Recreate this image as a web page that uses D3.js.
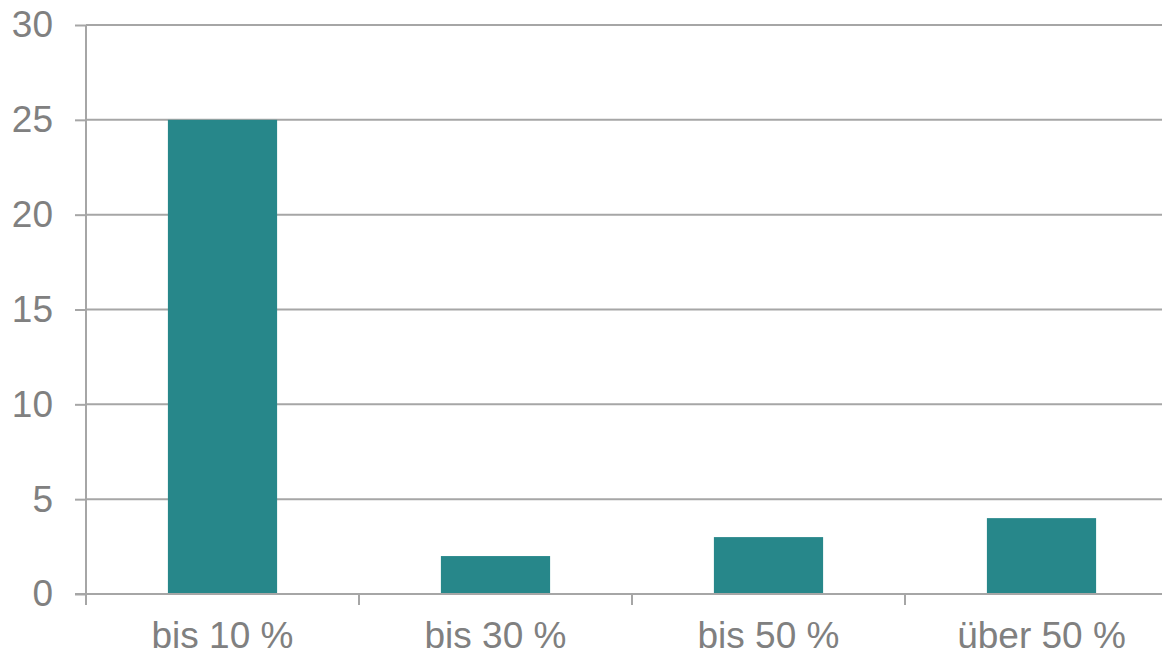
<!DOCTYPE html>
<html><head><meta charset="utf-8">
<script src="https://cdn.jsdelivr.net/npm/d3@7"></script>
<style>html,body{margin:0;padding:0;background:#fff;overflow:hidden}</style>
</head><body>
<svg id="chart" width="1162" height="656"></svg>
<script>
const categories = ["bis 10 %", "bis 30 %", "bis 50 %", "über 50 %"];
const values = [25, 2, 3, 4];
const yTicks = [0, 5, 10, 15, 20, 25, 30];

(function () {
const svg = d3.select("#chart");
const mLeft = 86, mRight = 1178, mTop = 25, mBottom = 594;
const gray = "#a6a6a6", textColor = "#808080", barColor = "#27878a";
const font = "'Liberation Sans', Arial, sans-serif";

const x = d3.scaleBand().domain(categories).range([mLeft, mRight]).padding(0);
const y = d3.scaleLinear().domain([0, 30]).range([mBottom, mTop]);

// gridlines
svg.append("g").selectAll("line").data(yTicks.filter(d => d > 0)).join("line")
  .attr("x1", mLeft).attr("x2", mRight)
  .attr("y1", d => y(d)).attr("y2", d => y(d))
  .attr("stroke", gray).attr("stroke-width", 2);

// bars
const bw = x.bandwidth() * 0.4;
svg.append("g").selectAll("rect").data(values).join("rect")
  .attr("x", (d, i) => x(categories[i]) + x.bandwidth() / 2 - bw / 2)
  .attr("width", bw)
  .attr("y", d => y(d))
  .attr("height", d => y(0) - y(d))
  .attr("fill", barColor);

// y axis
const yAxis = svg.append("g").attr("transform", `translate(${mLeft},0)`)
  .call(d3.axisLeft(y).tickValues(yTicks).tickSize(11).tickPadding(22));
yAxis.select(".domain").attr("stroke", gray).attr("stroke-width", 2).attr("d", `M0,${mTop}V${mBottom}`);
yAxis.selectAll(".tick line").attr("stroke", gray).attr("stroke-width", 2);
yAxis.selectAll(".tick text").attr("fill", textColor).attr("font-size", 37).attr("font-family", font);

// x axis
const xAxis = svg.append("g").attr("transform", `translate(0,${mBottom})`)
  .call(d3.axisBottom(x).tickSize(0).tickPadding(28));
xAxis.select(".domain").attr("stroke", gray).attr("stroke-width", 2).attr("d", `M${mLeft - 11},0H${mRight}`);
xAxis.selectAll(".tick text").attr("fill", textColor).attr("font-size", 37).attr("font-family", font);

// x ticks at band boundaries
const bounds = categories.map(c => x(c)).concat([mRight]);
svg.append("g").selectAll("line").data(bounds).join("line")
  .attr("x1", d => d).attr("x2", d => d)
  .attr("y1", mBottom).attr("y2", mBottom + 11)
  .attr("stroke", gray).attr("stroke-width", 2);
})();
</script>
</body></html>
